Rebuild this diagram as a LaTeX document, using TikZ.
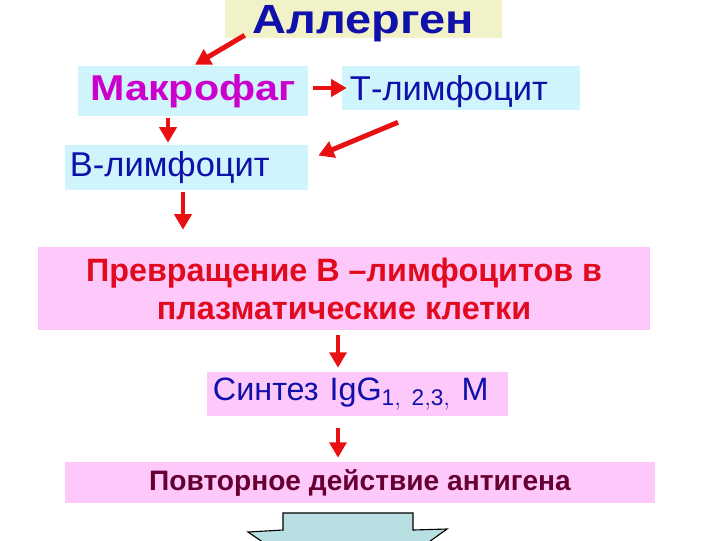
\documentclass[tikz,border=0pt]{standalone}
\usepackage{fontspec}
\setmainfont{Liberation Sans}
\newfontfamily\widefont[FakeStretch=1.15]{Liberation Sans Bold}
\usetikzlibrary{arrows.meta,calc}
\definecolor{boxyellow}{RGB}{242,242,200}
\definecolor{boxcyan}{RGB}{208,244,252}
\definecolor{boxpink}{RGB}{255,200,250}
\definecolor{txtblue}{RGB}{16,16,170}
\definecolor{txtmagenta}{RGB}{204,0,204}
\definecolor{txtred}{RGB}{225,10,30}
\definecolor{txtmaroon}{RGB}{102,0,51}
\definecolor{arrred}{RGB}{232,16,16}
\definecolor{shapeteal}{RGB}{184,224,226}
\tikzset{
  cellbox/.style={rectangle, inner sep=0pt, minimum width=#1},
  leftbox/.style={rectangle, inner ysep=0pt, align=left},
  redarr/.style={draw=arrred, line width=3.5pt, -{Triangle[length=11pt,width=12pt]}}
}
\begin{document}
\begin{tikzpicture}[x=0.025cm, y=-0.025cm]
\useasboundingbox (0,0) rectangle (720,540);
\node[cellbox=6.925cm, fill=boxyellow, minimum height=0.95cm, text=txtblue, text depth=0pt, font=\widefont\fontsize{29}{32}\selectfont] (allergen) at (363.5,19) {Аллерген};
\node[cellbox=5.75cm, fill=boxcyan, minimum height=1.25cm, text=txtmagenta, font=\widefont\fontsize{25.5}{30}\selectfont] (macro) at (193,91) {Макрофаг};
\node[leftbox, inner xsep=0.2cm, text width=5.55cm, fill=boxcyan, minimum height=1.1cm, text=txtblue, text depth=0pt, font=\fontsize{24.5}{28}\selectfont] (tlym) at (461,88) {Т-лимфоцит};
\node[leftbox, inner xsep=0.125cm, text width=5.825cm, fill=boxcyan, minimum height=1.125cm, text=txtblue, font=\fontsize{24.5}{28}\selectfont] (blym) at (186.5,167.5) {В-лимфоцит};
\node[cellbox=15.3cm, fill=boxpink, minimum height=2.075cm, text=txtred, align=center, font=\bfseries\fontsize{23}{27}\selectfont] (transform) at (344,288.5) {Превращение В –лимфоцитов в\\ плазматические клетки};
\node[leftbox, inner xsep=0.15cm, text width=7.225cm, fill=boxpink, minimum height=1.1cm, text=txtblue, font=\fontsize{23}{26}\selectfont] (synth) at (357.5,394) {Синтез IgG$_{\mathrm{1,\ 2,3,}}$ М};
\node[cellbox=14.75cm, fill=boxpink, minimum height=1.025cm, text=txtmaroon, font=\bfseries\fontsize{20}{23}\selectfont] (repeat) at (360,482.5) {Повторное действие антигена};
% red arrows
\draw[redarr] ($(allergen.south west)+(20,-3)$) -- ($(macro.north)+(2,-1)$);
\draw[redarr] ($(macro.east)+(5,-3)$) -- ($(tlym.west)+(5,0)$);
\draw[redarr] ($(tlym.south)+(-63,12)$) -- ($(blym.east)+(10,-12)$);
\draw[redarr] ($(macro.south)+(-25,2)$) -- ($(blym.north)+(-18.5,-2)$);
\draw[redarr] ($(blym.south)+(-3.5,2)$) -- ($(transform.north)+(-161,-17)$);
\draw[redarr] ($(transform.south)+(-6,5)$) -- ($(synth.north)+(-19.5,-4)$);
\draw[redarr] ($(synth.south)+(-19.5,12)$) -- ($(repeat.north)+(-22,-4)$);
% block arrow at the bottom
\begin{scope}
\clip (0,0) rectangle (720,540);
\draw[fill=shapeteal, line width=0.8pt] (283,513) -- (413,513) -- (413,530) -- (447,529) -- (348,600) -- (248,532) -- (283,530) -- cycle;
\end{scope}
\end{tikzpicture}
\end{document}
